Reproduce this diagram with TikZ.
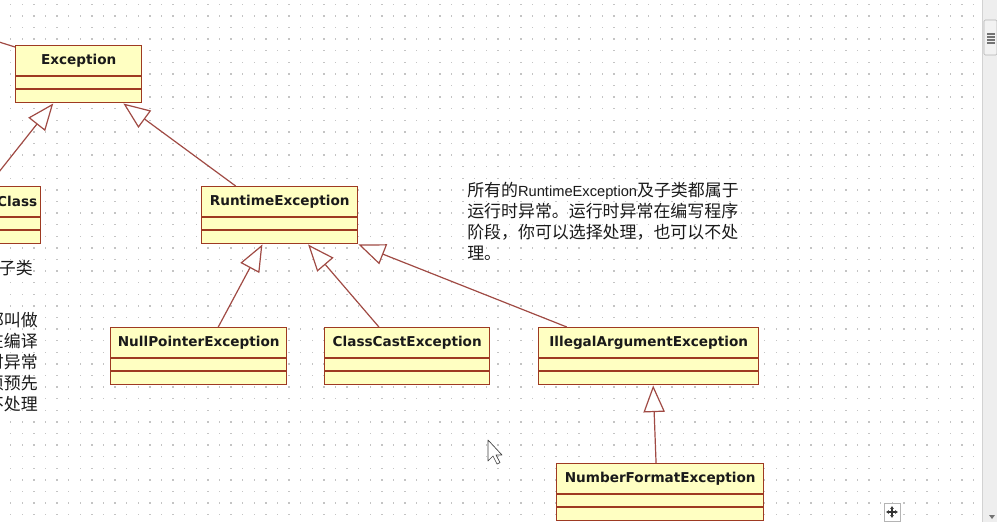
\documentclass[tikz,border=0pt]{standalone}
\usepackage{fontspec}
\newfontfamily\umlfont{DejaVu Sans}
\newfontfamily\cjkfont{Noto Sans CJK SC}
\newfontfamily\notelatin{Liberation Sans}
\usetikzlibrary{
  arrows.meta,
  calc,
  positioning
}
\definecolor{roseFill}{HTML}{FFFFC2}
\definecolor{roseEdge}{HTML}{9E3A22}
\definecolor{roseLink}{HTML}{A04A44}
\definecolor{roseInk}{HTML}{1A1A1A}
\definecolor{gridDot}{HTML}{C4C4C4}
\definecolor{barGray}{HTML}{EEEEEE}
\definecolor{barLine}{HTML}{B4B4B4}
\tikzset{
  every node/.style={text=roseInk},
  umlbox/.style={
    draw=roseEdge,
    fill=roseFill,
    line width=1.1pt,
    inner sep=0pt,
    minimum height=42.75pt,
    anchor=north west
  },
  umltitle/.style={
    font=\umlfont\bfseries\fontsize{10.2}{12}\selectfont,
    inner sep=0pt,
    minimum height=23.25pt
  },
  umlrule/.style={draw=roseEdge, line width=1.1pt},
  umllink/.style={draw=roseLink, line width=0.9pt},
  generalize/.style={
    umllink,
    -{Triangle[length=20pt,width=16pt,fill=white]}
  },
  notetext/.style={
    font=\cjkfont\fontsize{12.7}{15.75}\selectfont,
    inner sep=0pt
  },
  griddot/.style={fill=gridDot}
}

\begin{document}
\begin{tikzpicture}[x=0.75pt, y=-0.75pt]
  \useasboundingbox (0,0) rectangle (997,522);
  \clip (0,0) rectangle (997,522);
  \fill[white] (0,0) rectangle (997,522);

  % dotted canvas
  \foreach \i in {0,...,83}
    \foreach \j in {0,...,44}
      \fill[griddot] (10+11.6*\i,3.5+11.6*\j) rectangle +(1.4,1.4);

  % classes
  \node[umlbox, minimum width=142.5pt] (chk) at (-150,186) {};
  \node[umltitle, anchor=north east] (chk-t) at ($(chk.north east)+(-4,0)$) {Class};
  \draw[umlrule] ($(chk.north west)+(0,31)$) -- ($(chk.north east)+(0,31)$);
  \draw[umlrule] ($(chk.north west)+(0,44)$) -- ($(chk.north east)+(0,44)$);

  \foreach \name/\title/\x/\y/\w in {
    exc/Exception/15/45/126,
    rte/RuntimeException/201/186/156,
    npe/NullPointerException/110/327/176,
    cce/ClassCastException/324/327/165,
    iae/IllegalArgumentException/538/327/220,
    nfe/NumberFormatException/556/463/207
  }{
    \node[umlbox, minimum width={\w*0.75pt}] (\name) at (\x,\y) {};
    \node[umltitle, below=0pt of \name.north] (\name-t) {\title};
    \draw[umlrule] ($(\name.north west)+(0,31)$) -- ($(\name.north east)+(0,31)$);
    \draw[umlrule] ($(\name.north west)+(0,44)$) -- ($(\name.north east)+(0,44)$);
  }

  % generalizations
  \coordinate (thr) at (-20,36);
  \draw[umllink] ($(exc.north west)+(0,2)$) -- (thr);
  \draw[generalize] ($(chk.north west)!0.72!(chk.north east)$) -- ($(exc.south west)!0.30!(exc.south east)$);
  \draw[generalize] ($(rte.north west)!0.22!(rte.north east)$) -- ($(exc.south west)!0.85!(exc.south east)$);
  \draw[generalize] ($(npe.north west)!0.61!(npe.north east)$) -- ($(rte.south west)!0.39!(rte.south east)$);
  \draw[generalize] ($(cce.north west)!0.33!(cce.north east)$) -- ($(rte.south west)!0.68!(rte.south east)$);
  \draw[generalize] ($(iae.north west)!0.13!(iae.north east)$) -- (rte.south east);
  \draw[generalize] ($(nfe.north west)!0.48!(nfe.north east)$) -- ($(iae.south west)!0.52!(iae.south east)$);

  % notes
  \node[notetext, anchor=north west, align=left] (rtnote) at (467,182)
    {所有的{\notelatin\fontsize{11}{15.75}\selectfont RuntimeException}及子类都属于\\
     运行时异常。运行时异常在编写程序\\
     阶段，你可以选择处理，也可以不处\\
     理。};
  \node[notetext, anchor=north east, align=right] (cknote-a) at (33,260) {子类};
  \node[notetext, anchor=north east, align=right] (cknote-b) at (38,312)
    {都叫做\\在编译\\时异常\\须预先\\不处理};

  % scroll bar, move handle, pointer
  \fill[barGray] (982,0) rectangle (997,522);
  \draw[barLine!60] (982,0) -- (982,522);
  \draw[barLine, fill=white!95!black, rounded corners=1pt] (984,20) rectangle (997,55);
  \foreach \g in {34,37,40,43}
    \draw[black!55, line width=0.8pt] (987,\g) -- (995,\g);
  \fill[black!55] (989,515) -- (995,515) -- (992,519) -- cycle;

  \draw[barLine, fill=white] (884,503) rectangle (900,521);
  \foreach \dx/\dy in {0/-6, 0/6, -6/0, 6/0}
    \draw[black!80, line width=0.9pt, -{Latex[length=2.2pt,width=3pt]}] (892,512) -- ++(\dx,\dy);

  \filldraw[fill=white, draw=black!75, line width=0.5pt, line join=round]
    (488,440) -- ++(0,21) -- ++(5,-5) -- ++(4,8) -- ++(3,-1.5) -- ++(-4,-7.5) -- ++(6,0) -- cycle;
\end{tikzpicture}
\end{document}
